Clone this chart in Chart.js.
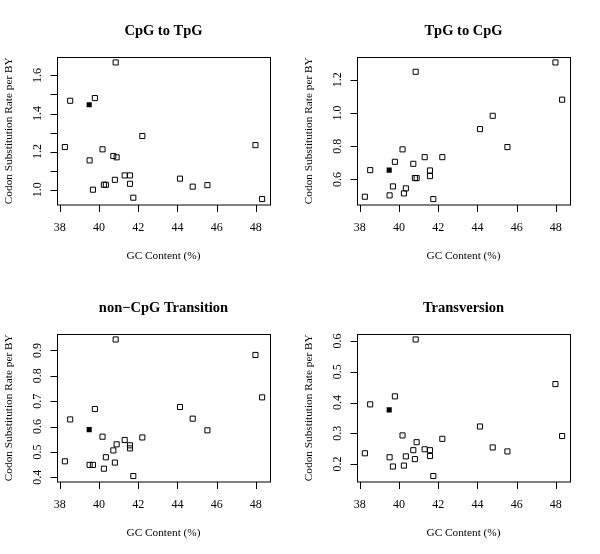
<!DOCTYPE html>
<html>
<head>
<meta charset="utf-8">
<script src="https://cdn.jsdelivr.net/npm/chart.js@4"></script>
<style>
  body { margin: 0; background: #fff; }
  #wrap { display: grid; grid-template-columns: 300px 300px; width: 600px; }
  canvas { display: block; }
</style>
</head>
<body>
<div id="wrap">
  <canvas id="c1" width="300" height="277"></canvas>
  <canvas id="c2" width="300" height="277"></canvas>
  <canvas id="c3" width="300" height="277"></canvas>
  <canvas id="c4" width="300" height="277"></canvas>
</div>
<script>
// GC content of each species (open squares)
const gcContent = [38.26, 38.53, 39.79, 39.52, 39.69, 40.18, 40.25, 40.35, 40.73, 40.81, 40.90,
  40.85, 41.31, 41.58, 41.58, 41.75, 42.21, 44.13, 44.78, 45.53, 47.98, 48.32];
// the highlighted species (filled square)
const gcFilled = 39.50;

const cpgToTpg = [1.224, 1.467, 1.481, 1.154, 1.000, 1.212, 1.026, 1.026, 1.177, 1.052, 1.170,
  1.668, 1.075, 1.075, 1.031, 0.958, 1.282, 1.058, 1.016, 1.024, 1.234, 0.951];
const tpgToCpg = [0.496, 0.656, 0.706, 0.504, 0.558, 0.781, 0.516, 0.546, 0.694, 0.608, 0.608,
  1.248, 0.734, 0.654, 0.620, 0.482, 0.734, 0.903, 0.983, 0.795, 1.304, 1.080];
const nonCpgTransition = [0.463, 0.628, 0.669, 0.449, 0.449, 0.560, 0.434, 0.479, 0.506, 0.458, 0.530,
  0.943, 0.547, 0.526, 0.514, 0.405, 0.557, 0.677, 0.631, 0.585, 0.882, 0.715];
const transversion = [0.235, 0.394, 0.420, 0.222, 0.192, 0.293, 0.195, 0.225, 0.245, 0.216, 0.271,
  0.605, 0.248, 0.245, 0.226, 0.161, 0.282, 0.322, 0.254, 0.241, 0.460, 0.291];
const filledValues = [1.446, 0.656, 0.588, 0.376];

const titles = ['CpG to TpG', 'TpG to CpG', 'non\u2212CpG Transition', 'Transversion'];
const xTicks = [38, 40, 42, 44, 46, 48];
const yTicks1 = [1.0, 1.1, 1.2, 1.3, 1.4, 1.5, 1.6];
const yLabels1 = [1.0, 1.2, 1.4, 1.6];
const yTicks2 = [0.6, 0.8, 1.0, 1.2];
const yLabels2 = [0.6, 0.8, 1.0, 1.2];
const yTicks3 = [0.4, 0.5, 0.6, 0.7, 0.8, 0.9];
const yLabels3 = [0.4, 0.5, 0.6, 0.7, 0.8, 0.9];
const yTicks4 = [0.2, 0.3, 0.4, 0.5, 0.6];
const yLabels4 = [0.2, 0.3, 0.4, 0.5, 0.6];

Chart.defaults.font.family = "'Liberation Serif', 'DejaVu Serif', serif";
Chart.defaults.color = '#000';

const TICK_LEN = 7;

// R style range: data range plus 4% each side
function rRange(vals) {
  const lo = Math.min(...vals), hi = Math.max(...vals);
  const pad = (hi - lo) * 0.04;
  return [lo - pad, hi + pad];
}

// box round the plot + tick marks, R style
const boxPlugin = {
  id: 'box',
  beforeDatasetsDraw(chart) {
    const a = chart.chartArea;
    const ctx = chart.ctx;
    const xs = chart.scales.x, ys = chart.scales.y;
    ctx.save();
    ctx.strokeStyle = '#000';
    ctx.lineWidth = 1;
    ctx.strokeRect(a.left + 0.5, a.top + 0.5, a.right - a.left, a.bottom - a.top);
    ctx.beginPath();
    xs.ticks.forEach(t => {
      const px = Math.round(xs.getPixelForValue(t.value)) + 0.5;
      ctx.moveTo(px, a.bottom + 0.5);
      ctx.lineTo(px, a.bottom + 0.5 + TICK_LEN);
    });
    ys.ticks.forEach(t => {
      const py = Math.round(ys.getPixelForValue(t.value)) + 0.5;
      ctx.moveTo(a.left + 0.5, py);
      ctx.lineTo(a.left + 0.5 - TICK_LEN, py);
    });
    ctx.stroke();
    ctx.restore();
  }
};

// y tick labels, rotated like R's default
const yLabelPlugin = {
  id: 'ylabels',
  afterDraw(chart, args, opts) {
    const y = chart.scales.y;
    const ctx = chart.ctx;
    ctx.save();
    ctx.font = "12px 'Liberation Serif', serif";
    ctx.fillStyle = '#000';
    ctx.textAlign = 'center';
    ctx.textBaseline = 'middle';
    opts.labels.forEach(v => {
      const py = y.getPixelForValue(v);
      ctx.save();
      ctx.translate(37.5, py);
      ctx.rotate(-Math.PI / 2);
      ctx.fillText(v.toFixed(1), 0, 0);
      ctx.restore();
    });
    ctx.restore();
  }
};

function drawPanel(id, title, values, filled, yTicks, yLabels) {
  const xr = rRange(gcContent.concat([gcFilled]));
  const yr = rRange(values.concat([filled]));
  const open = gcContent.map((g, i) => ({ x: g, y: values[i] }));

  new Chart(document.getElementById(id), {
    type: 'scatter',
    data: {
      datasets: [
        {
          data: open,
          pointStyle: 'rect',
          pointRadius: 3.6,
          borderWidth: 1,
          borderColor: '#000',
          backgroundColor: 'rgba(0,0,0,0)'
        },
        {
          data: [{ x: gcFilled, y: filled }],
          pointStyle: 'rect',
          pointRadius: 3.6,
          borderWidth: 0,
          backgroundColor: '#000'
        }
      ]
    },
    options: {
      responsive: false,
      animation: false,
      events: [],
      layout: { padding: { left: 0, right: 30, top: 0, bottom: 0 } },
      plugins: {
        legend: { display: false },
        tooltip: { enabled: false },
        title: {
          display: true,
          fullSize: false,
          text: title,
          color: '#000',
          font: { size: 14.5, weight: 'bold' },
          padding: { top: 22.5, bottom: 17.1 }
        },
        ylabels: { labels: yLabels }
      },
      scales: {
        x: {
          type: 'linear',
          min: xr[0],
          max: xr[1],
          afterBuildTicks: s => { s.ticks = xTicks.map(v => ({ value: v })); },
          afterFit: s => { s.height = 72.5; },
          ticks: { font: { size: 12 }, color: '#000', padding: 16, maxRotation: 0 },
          grid: { display: false, drawTicks: false },
          border: { display: false },
          title: {
            display: true,
            text: 'GC Content (%)',
            font: { size: 11.3 },
            color: '#000',
            padding: { top: 0, bottom: 14.5 }
          }
        },
        y: {
          type: 'linear',
          min: yr[0],
          max: yr[1],
          afterBuildTicks: s => { s.ticks = yTicks.map(v => ({ value: v })); },
          afterFit: s => { s.width = 57; },
          ticks: { display: false },
          grid: { display: false, drawTicks: false },
          border: { display: false },
          title: {
            display: true,
            text: 'Codon Substitution Rate per BY',
            font: { size: 11.3 },
            color: '#000',
            padding: { top: 2.5, bottom: 0 }
          }
        }
      }
    },
    plugins: [boxPlugin, yLabelPlugin]
  });
}

drawPanel('c1', titles[0], cpgToTpg, filledValues[0], yTicks1, yLabels1);
drawPanel('c2', titles[1], tpgToCpg, filledValues[1], yTicks2, yLabels2);
drawPanel('c3', titles[2], nonCpgTransition, filledValues[2], yTicks3, yLabels3);
drawPanel('c4', titles[3], transversion, filledValues[3], yTicks4, yLabels4);
</script>
</body>
</html>
